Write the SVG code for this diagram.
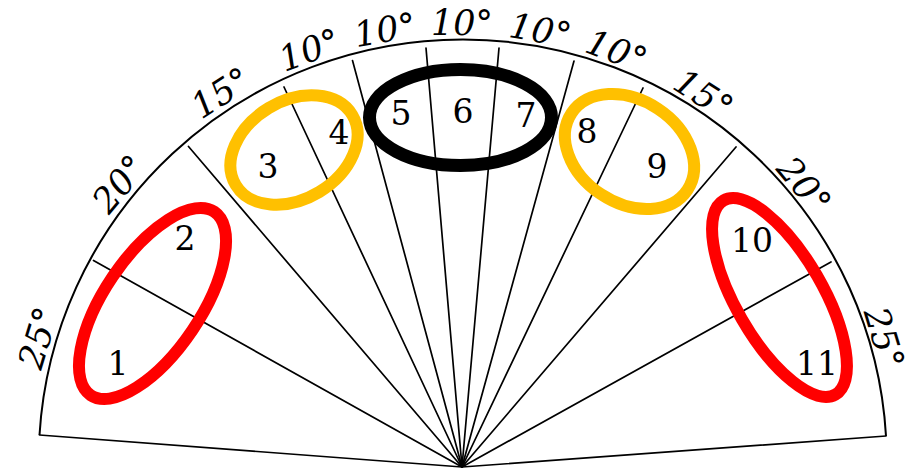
<svg xmlns="http://www.w3.org/2000/svg" width="911" height="474" viewBox="0 0 911 474">
<style>
.ln{stroke:#000;stroke-width:1.7;fill:none;stroke-linecap:round}
.arc{stroke:#000;stroke-width:2;fill:none}
.ring{fill:none}
.red{stroke:#ff0000;stroke-width:12}
.yel{stroke:#ffc000;stroke-width:12}
.blk{stroke:#000;stroke-width:13}
.num{font-family:"DejaVu Serif","Liberation Serif",serif;font-size:33px;fill:#000;text-anchor:middle}
.deg{font-family:"DejaVu Serif","Liberation Serif",serif;font-style:italic;font-size:35px;fill:#000;text-anchor:middle}
</style>
<rect width="911" height="474" fill="#fff"/>
<g id="connectors">
<path class="arc" d="M39.5 435 A424 421 0 0 1 886 436"/>
<line class="ln" x1="462" y1="467" x2="39.5" y2="435"/>
<line class="ln" x1="462" y1="467" x2="93.5" y2="260.5"/>
<line class="ln" x1="462" y1="467" x2="188.5" y2="146.5"/>
<line class="ln" x1="462" y1="467" x2="284" y2="87"/>
<line class="ln" x1="462" y1="467" x2="352.5" y2="60.5"/>
<line class="ln" x1="462" y1="467" x2="426" y2="48"/>
<line class="ln" x1="462" y1="467" x2="499" y2="48"/>
<line class="ln" x1="462" y1="467" x2="574" y2="61"/>
<line class="ln" x1="462" y1="467" x2="643" y2="88"/>
<line class="ln" x1="462" y1="467" x2="736" y2="147"/>
<line class="ln" x1="462" y1="467" x2="831" y2="262"/>
<line class="ln" x1="462" y1="467" x2="886" y2="436"/>
</g>
<g id="degree-labels">
<g transform="translate(38.5 337.9) rotate(-73.05)"><text class="deg" x="0" y="12">25°</text></g>
<g transform="translate(119.5 184) rotate(-50.4)"><text class="deg" x="0" y="12">20°</text></g>
<g transform="translate(221 93) rotate(-32.65)"><text class="deg" x="0" y="12">15°</text></g>
<g transform="translate(309.5 50) rotate(-20)"><text class="deg" x="0" y="12">10°</text></g>
<g transform="translate(385 30) rotate(-9.95)"><text class="deg" x="0" y="12">10°</text></g>
<g transform="translate(462 23)"><text class="deg" x="0" y="12">10°</text></g>
<g transform="translate(540.5 30.5) rotate(10.15)"><text class="deg" x="0" y="12">10°</text></g>
<g transform="translate(616.5 51) rotate(20.35)"><text class="deg" x="0" y="12">10°</text></g>
<g transform="translate(703.5 94.5) rotate(32.9)"><text class="deg" x="0" y="12">15°</text></g>
<g transform="translate(804 185.5) rotate(50.6)"><text class="deg" x="0" y="12">20°</text></g>
<g transform="translate(884 338) rotate(73.25)"><text class="deg" x="0" y="12">25°</text></g>
</g>
<g id="ring-red-left"><ellipse class="ring red" cx="152.5" cy="303.5" rx="110.6" ry="48" transform="rotate(-56 152.5 303.5)"/></g>
<g id="ring-yellow-left"><ellipse class="ring yel" cx="294" cy="150" rx="68" ry="49" transform="rotate(-31 294 150)"/></g>
<g id="ring-black"><ellipse class="ring blk" cx="460.5" cy="117.5" rx="91" ry="48"/></g>
<g id="ring-yellow-right"><ellipse class="ring yel" cx="629.5" cy="151.5" rx="69.5" ry="51.4" transform="rotate(33.5 629.5 151.5)"/></g>
<g id="ring-red-right"><ellipse class="ring red" cx="779.5" cy="297.5" rx="112" ry="43.4" transform="rotate(60 779.5 297.5)"/></g>
<g id="sector-1"><text class="num" x="118" y="375">1</text></g>
<g id="sector-2"><text class="num" x="185" y="250">2</text></g>
<g id="sector-3"><text class="num" x="268" y="178">3</text></g>
<g id="sector-4"><text class="num" x="339" y="144">4</text></g>
<g id="sector-5"><text class="num" x="401" y="125">5</text></g>
<g id="sector-6"><text class="num" x="463" y="123">6</text></g>
<g id="sector-7"><text class="num" x="526" y="127">7</text></g>
<g id="sector-8"><text class="num" x="587" y="143">8</text></g>
<g id="sector-9"><text class="num" x="657" y="178">9</text></g>
<g id="sector-10"><text class="num" x="752" y="252">10</text></g>
<g id="sector-11"><text class="num" x="817" y="375">11</text></g>
</svg>
